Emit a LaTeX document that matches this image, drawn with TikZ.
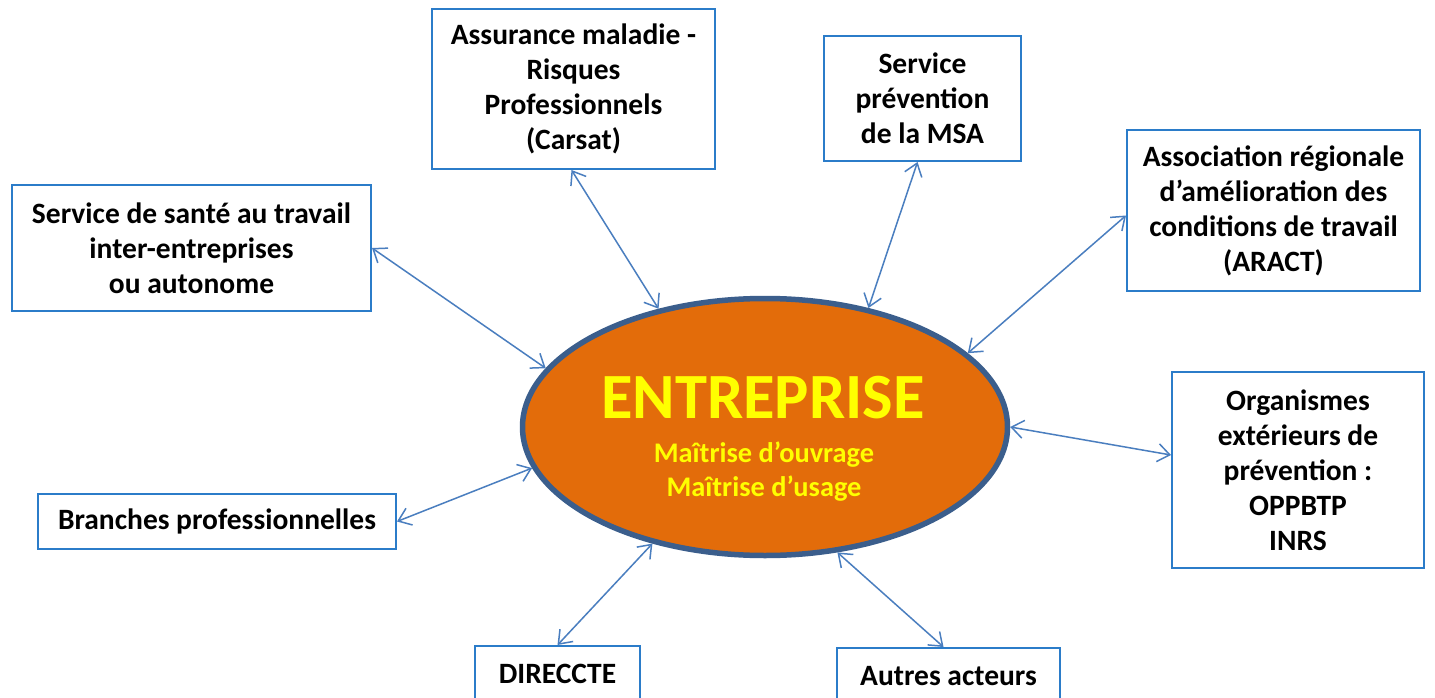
\documentclass[tikz,border=0pt]{standalone}
\usepackage{fontspec}
\setmainfont{Carlito}
\usetikzlibrary{arrows.meta,shapes.geometric}
\definecolor{boxblue}{HTML}{2B7CC9}
\definecolor{arrblue}{HTML}{4A7EBF}
\definecolor{entorange}{HTML}{E36C0A}
\definecolor{entborder}{HTML}{3B5E8C}
\definecolor{entyellow}{HTML}{FFFF00}
\begin{document}
\begin{tikzpicture}[x=1pt,y=-1pt,
  actor/.style={draw=boxblue,line width=2pt,fill=white,inner sep=0pt,align=center,
    font=\fontsize{29.5}{35}\selectfont\bfseries},
  link/.style={draw=arrblue,line width=1.5pt,{Straight Barb[length=12pt,width=18pt,line width=1.5pt]}-{Straight Barb[length=12pt,width=18pt,line width=1.5pt]}}]
\useasboundingbox (0,0) rectangle (1435,698);
\fill[white] (0,0) rectangle (1435,698);
% centre
\node[ellipse,draw=entborder,line width=5.5pt,fill=entorange,minimum width=485pt,minimum height=257pt,inner sep=0pt] (ent) at (765,427) {};
\node[anchor=base,text=entyellow,font=\fontsize{64.5}{70}\selectfont\bfseries] (t1) at (763,418) {ENTREPRISE};
\node[anchor=base,text=entyellow,font=\fontsize{28.4}{30}\selectfont\bfseries] (t2) at (764,462) {Maîtrise d’ouvrage};
\node[anchor=base,text=entyellow,font=\fontsize{28.4}{30}\selectfont\bfseries] (t3) at (764,496) {Maîtrise d’usage};
% boxes
\node[actor,minimum width=283pt,minimum height=160pt] (a) at (573.5,89) {Assurance maladie -\\Risques\\Professionnels\\(Carsat)};
\node[actor,minimum width=197pt,minimum height=125pt] (b) at (922.5,98.5) {Service\\prévention\\de la MSA};
\node[actor,minimum width=293pt,minimum height=161pt] (c) at (1273.5,210.5) {Association régionale\\d’amélioration des\\conditions de travail\\(ARACT)};
\node[actor,minimum width=359pt,minimum height=126pt] (d) at (191.5,248) {Service de santé au travail\\inter-entreprises\\ou autonome};
\node[actor,minimum width=252pt,minimum height=196pt] (e) at (1298,470) {Organismes\\extérieurs de\\prévention :\\OPPBTP\\INRS};
\node[actor,minimum width=358pt,minimum height=55pt] (f) at (217,521.5) {Branches professionnelles};
\node[actor,minimum width=165pt,minimum height=56pt] (g) at (557.5,674) {DIRECCTE};
\node[actor,minimum width=223pt,minimum height=56pt] (h) at (948.5,676) {Autres acteurs};
% links
\draw[link] ([xshift=-2pt]a.south) -- (ent.132);
\draw[link] ([xshift=-5pt]b.south) -- (ent.49);
\draw[link] ([yshift=-5pt]c.west) -- (ent.20);
\draw[link] (d.east) -- (ent.165);
\draw[link] ([yshift=15pt]e.west) -- (ent.0.5);
\draw[link] (f.east) -- (ent.190);
\draw[link] (g.north) -- (ent.226);
\draw[link] ([xshift=-5pt]h.north) -- (ent.300);
\end{tikzpicture}
\end{document}
